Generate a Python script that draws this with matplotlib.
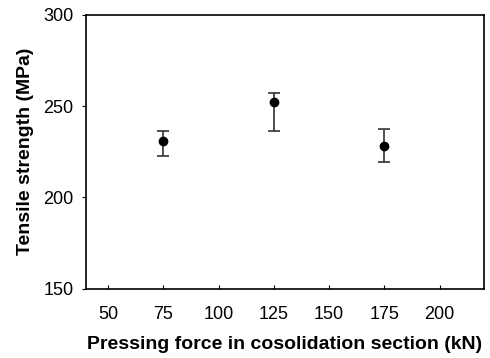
import matplotlib
matplotlib.use("Agg")
import matplotlib.pyplot as plt

plt.rcParams['font.family'] = ['Liberation Sans', 'DejaVu Sans']

# data
force = [75, 125, 175]
strength = [230.8, 252.3, 228.4]
err_low = [8.1, 16.1, 8.9]
err_high = [5.6, 4.9, 9.3]

x_ticks = [50, 75, 100, 125, 150, 175, 200]
y_ticks = [150, 200, 250, 300]

fig = plt.figure(figsize=(4.9, 3.58), dpi=100)
ax = fig.add_axes([0.1755, 0.193, 0.812, 0.766])

ax.errorbar(force, strength, yerr=[err_low, err_high], fmt='o', color='black',
            ecolor='#333333', elinewidth=1.2, capsize=4, capthick=1.2, markersize=6)

ax.set_xlim(40, 220)
ax.set_ylim(150, 300)
ax.set_xticks(x_ticks)
ax.set_yticks(y_ticks)
ax.tick_params(axis='x', direction='in', length=3, labelsize=13, pad=12)
ax.tick_params(axis='y', direction='out', length=3, labelsize=13, pad=6)
for s in ax.spines.values():
    s.set_linewidth(1.2)

ax.set_xlabel('Pressing force in cosolidation section (kN)', fontsize=14,
              fontweight='bold', labelpad=10)
ax.set_ylabel('Tensile strength (MPa)', fontsize=14, fontweight='bold', labelpad=7)

fig.savefig('out.png', dpi=100)
